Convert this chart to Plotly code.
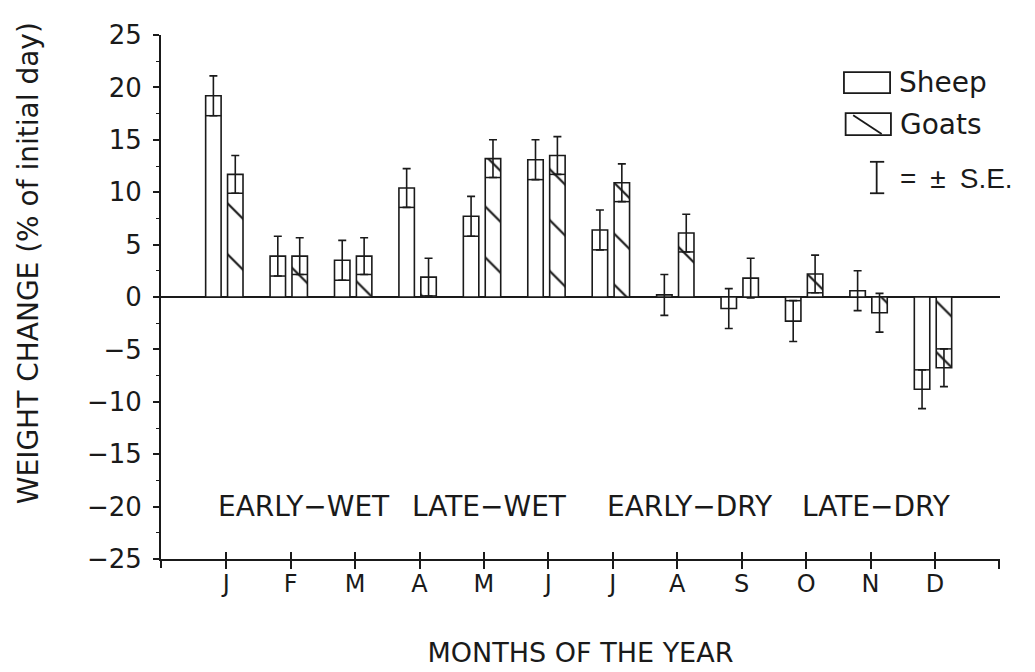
import numpy as np
import plotly.graph_objects as go

# ---------------- data ----------------
months = ["J", "F", "M", "A", "M", "J", "J", "A", "S", "O", "N", "D"]
sheep = [19.2, 3.9, 3.5, 10.4, 7.7, 13.1, 6.4, 0.2, -1.1, -2.3, 0.6, -8.8]
sheep_se = [1.9, 1.9, 1.9, 1.85, 1.9, 1.9, 1.9, 1.95, 1.9, 1.95, 1.9, 1.85]
goats = [11.7, 3.9, 3.9, 1.9, 13.2, 13.5, 10.9, 6.1, 1.8, 2.2, -1.5, -6.75]
goats_se = [1.8, 1.75, 1.75, 1.8, 1.8, 1.8, 1.8, 1.8, 1.9, 1.8, 1.85, 1.8]
seasons = ["EARLY\u2212WET", "LATE\u2212WET", "EARLY\u2212DRY", "LATE\u2212DRY"]
season_x = [2.2, 5.08, 8.2, 11.1]
season_y = -20
y_ticks = list(range(-25, 30, 5))

# ---------------- styling ----------------
OFFSET = 0.17
BAR_W = 0.24
INK = "#1a1a1a"
NUM_FONT = "DejaVu Sans"
TXT_FONT = "DejaVu Sans"

pos = np.arange(1, len(months) + 1)
sheep_x = pos - OFFSET - 0.03
goats_x = pos + OFFSET - 0.03


def inner_lines(xs, vals, ses):
    lx, ly = [], []
    for x, v, s in zip(xs, vals, ses):
        if abs(v) > s:
            yy = v - s if v > 0 else v + s
            lx += [x - BAR_W / 2, x + BAR_W / 2, None]
            ly += [yy, yy, None]
    return lx, ly


fig = go.Figure()

fig.add_trace(go.Bar(
    x=sheep_x, y=sheep, width=BAR_W, name="Sheep",
    marker=dict(color="white", line=dict(color=INK, width=1.6)),
    error_y=dict(type="data", array=sheep_se, color=INK, thickness=1.6, width=4),
    showlegend=False,
))
fig.add_trace(go.Bar(
    x=goats_x, y=goats, width=BAR_W, name="Goats",
    marker=dict(color="white", line=dict(color=INK, width=1.6),
                pattern=dict(shape="\\", size=36, solidity=0.06,
                             fgcolor=INK, bgcolor="white", fillmode="replace")),
    error_y=dict(type="data", array=goats_se, color=INK, thickness=1.6, width=4),
    showlegend=False,
))

for xs, vals, ses in [(sheep_x, sheep, sheep_se), (goats_x, goats, goats_se)]:
    lx, ly = inner_lines(xs, vals, ses)
    fig.add_trace(go.Scatter(x=lx, y=ly, mode="lines",
                             line=dict(color=INK, width=1.5),
                             hoverinfo="skip", showlegend=False))

# helper trace so the overlay axis (upper half of crossing ticks) is drawn
fig.add_trace(go.Scatter(x=[pos[0]], y=[0], xaxis="x2", mode="markers",
                         marker=dict(opacity=0), hoverinfo="skip",
                         showlegend=False))

x_range = [-0.013, 13.01]
tickvals = list(pos) + [13]
ticktext = months + [""]

# page body has an 8px margin -> compensate in the figure margins
fig.update_layout(
    width=1035, height=672,
    margin=dict(l=153, r=43, t=27, b=121),
    paper_bgcolor="white", plot_bgcolor="white",
    barmode="overlay",
    xaxis=dict(
        range=x_range, tickvals=tickvals, ticktext=ticktext,
        showline=True, linecolor=INK, linewidth=2,
        ticks="outside", ticklen=8, tickwidth=1.6, tickcolor=INK,
        showgrid=False, zeroline=False,
        tickfont=dict(family=TXT_FONT, size=24, color=INK),
        ticklabelstandoff=-6,
        title=dict(text="MONTHS OF THE YEAR", standoff=46,
                   font=dict(family=TXT_FONT, size=27, color=INK)),
    ),
    xaxis2=dict(
        range=x_range, overlaying="x", side="bottom",
        tickvals=tickvals, showticklabels=False,
        ticks="inside", ticklen=7, tickwidth=1.6, tickcolor=INK,
        showline=False, showgrid=False, zeroline=False,
    ),
    yaxis=dict(
        range=[-25, 25], tickvals=y_ticks,
        showline=True, linecolor=INK, linewidth=2,
        ticks="outside", ticklen=6, tickwidth=1.6, tickcolor=INK,
        minor=dict(dtick=2.5, ticks="outside", ticklen=3, tickwidth=1.4,
                   tickcolor=INK, showgrid=False),
        showgrid=False,
        zeroline=True, zerolinecolor=INK, zerolinewidth=2,
        tickfont=dict(family=NUM_FONT, size=26, color=INK),
        ticklabelstandoff=6,
    ),
)

# y-axis title
fig.add_annotation(
    text="WEIGHT CHANGE (% of initial day)", textangle=-90,
    xref="paper", yref="paper", x=-0.157, y=0.565,
    xanchor="center", yanchor="middle", showarrow=False,
    font=dict(family=TXT_FONT, size=28, color=INK),
)

# season labels
for s, sx in zip(seasons, season_x):
    fig.add_annotation(text=s, x=sx, y=season_y, xref="x", yref="y",
                       showarrow=False, xanchor="center", yanchor="middle",
                       font=dict(family=TXT_FONT, size=28, color=INK))

# legend (drawn) and small axis extension below the x axis
shapes = [
    dict(type="line", xref="paper", yref="paper", x0=0, x1=0,
         y0=0, y1=-0.017, line=dict(color=INK, width=2)),
    dict(type="rect", xref="paper", yref="paper", x0=0.814, x1=0.869,
         y0=0.889, y1=0.929, line=dict(color=INK, width=1.8)),
    dict(type="rect", xref="paper", yref="paper", x0=0.816, x1=0.870,
         y0=0.809, y1=0.851, line=dict(color=INK, width=1.8)),
    dict(type="line", xref="paper", yref="paper", x0=0.825, x1=0.859,
         y0=0.847, y1=0.811, line=dict(color=INK, width=1.8)),
    dict(type="line", xref="paper", yref="paper", x0=0.853, x1=0.853,
         y0=0.698, y1=0.758, line=dict(color=INK, width=1.8)),
    dict(type="line", xref="paper", yref="paper", x0=0.845, x1=0.862,
         y0=0.758, y1=0.758, line=dict(color=INK, width=1.8)),
    dict(type="line", xref="paper", yref="paper", x0=0.845, x1=0.862,
         y0=0.698, y1=0.698, line=dict(color=INK, width=1.8)),
]
fig.update_layout(shapes=shapes)

for txt, lx, ly in [("Sheep", 0.877, 0.909), ("Goats", 0.879, 0.830)]:
    fig.add_annotation(text=txt, xref="paper", yref="paper", x=lx, y=ly,
                       xanchor="left", yanchor="middle", showarrow=False,
                       font=dict(family=TXT_FONT, size=28, color=INK))
fig.add_annotation(text="=\u2002\u00b1\u2002S.E.", xref="paper", yref="paper",
                   x=0.878, y=0.727, xanchor="left", yanchor="middle",
                   showarrow=False,
                   font=dict(family="Liberation Sans", size=28, color=INK))

fig.write_html("out.html")
